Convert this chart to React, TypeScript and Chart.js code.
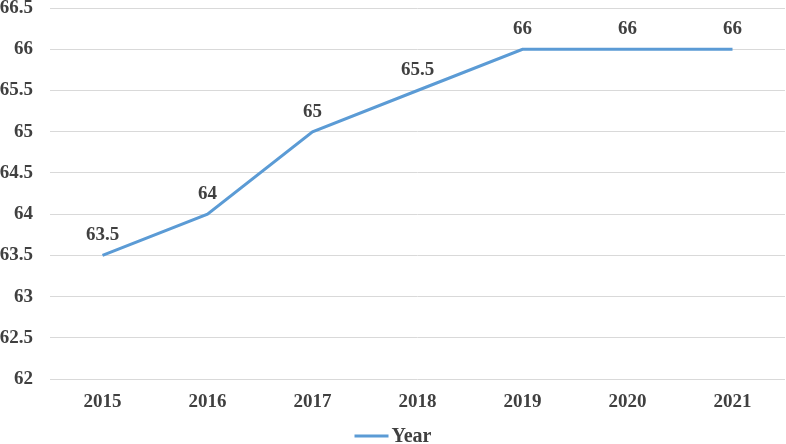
import React, { useEffect, useRef } from "react";
import { Chart, registerables } from "chart.js";

Chart.register(...registerables);

const categories = ["2015", "2016", "2017", "2018", "2019", "2020", "2021"];
const values = [63.5, 64, 65, 65.5, 66, 66, 66];
const seriesName = "Year";
const yMin = 62;
const yMax = 66.5;
const yStep = 0.5;

const FONT = "'Liberation Serif', 'Times New Roman', serif";
const TEXT = "#404040";
const LINE = "#5B9BD5";
const FS = 19;

const dataLabels = {
  id: "dataLabels",
  afterDatasetsDraw(chart: any) {
    const ctx = chart.ctx;
    const meta = chart.getDatasetMeta(0);
    ctx.save();
    ctx.font = `bold ${FS}px ${FONT}`;
    ctx.fillStyle = TEXT;
    ctx.textAlign = "center";
    ctx.textBaseline = "alphabetic";
    meta.data.forEach((pt: any, i: number) => {
      ctx.fillText(String(values[i]), pt.x, pt.y - 15);
    });
    ctx.restore();
  },
};

const bottomLegend = {
  id: "bottomLegend",
  afterDraw(chart: any) {
    const ctx = chart.ctx;
    const ds = chart.data.datasets[0];
    ctx.save();
    ctx.font = `bold 20px ${FONT}`;
    const label = String(ds.label);
    const tw = ctx.measureText(label).width;
    const lineW = 34;
    const gap = 3;
    const total = lineW + gap + tw;
    const x0 = (chart.width - total) / 2;
    const y = 436;
    ctx.strokeStyle = ds.borderColor;
    ctx.lineWidth = 3;
    ctx.beginPath();
    ctx.moveTo(x0, y);
    ctx.lineTo(x0 + lineW, y);
    ctx.stroke();
    ctx.fillStyle = TEXT;
    ctx.textAlign = "left";
    ctx.textBaseline = "alphabetic";
    ctx.fillText(label, x0 + lineW + gap, 442);
    ctx.restore();
  },
};

export default function App() {
  const ref = useRef<HTMLCanvasElement>(null);
  useEffect(() => {
    document.body.style.margin = "0";
    const chart = new Chart(ref.current!, {
      type: "line",
      data: {
        labels: categories,
        datasets: [
          {
            label: seriesName,
            data: values,
            borderColor: LINE,
            backgroundColor: LINE,
            borderWidth: 3,
            pointRadius: 0,
            tension: 0,
          },
        ],
      },
      options: {
        animation: false,
        responsive: false,
        layout: { padding: { top: 8, right: 1, left: 0, bottom: 20 } },
        scales: {
          x: {
            offset: true,
            grid: { display: false, drawTicks: false },
            border: { display: false },
            ticks: { color: TEXT, font: { family: FONT, size: FS, weight: "bold" }, padding: 11 },
          },
          y: {
            min: yMin,
            max: yMax,
            grid: { color: "#D9D9D9", lineWidth: 1, drawTicks: false },
            border: { display: false },
            afterFit: (scale: any) => {
              scale.paddingTop = 0;
              scale.paddingBottom = 0;
              scale.width = 50;
            },
            ticks: {
              stepSize: yStep,
              color: TEXT,
              padding: 17,
              font: { family: FONT, size: FS, weight: "bold" },
              callback: (v: any) => String(Number(v)),
            },
          },
        },
        plugins: {
          legend: { display: false },
          tooltip: { enabled: false },
        },
      },
      plugins: [dataLabels, bottomLegend],
    });
    return () => chart.destroy();
  }, []);
  return (
    <div style={{ width: 786, height: 444 }}>
      <canvas ref={ref} width={786} height={444} style={{ display: "block" }} />
    </div>
  );
}
